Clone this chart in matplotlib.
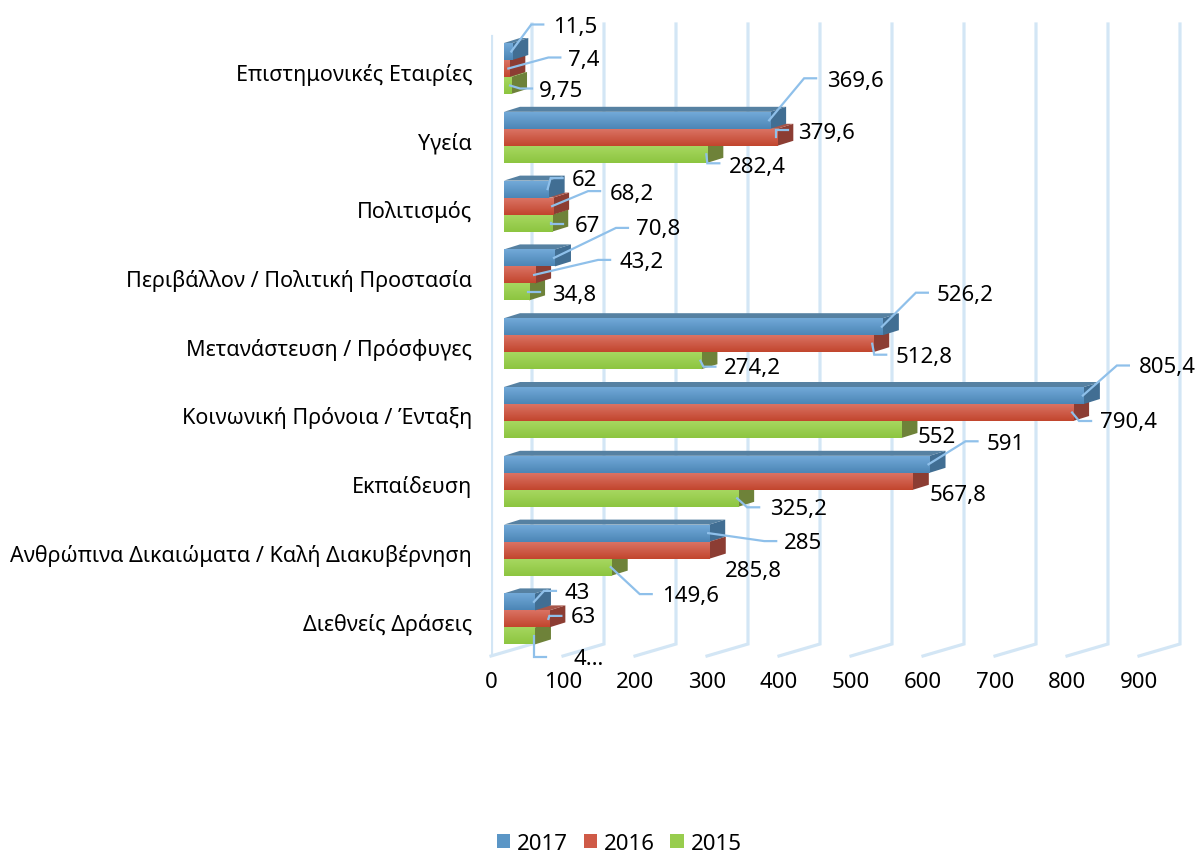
#!/usr/bin/env python3
"""Horizontal pseudo-3D clustered bars, three years per category, with leader-line labels."""

import numpy as np
import matplotlib
matplotlib.use("Agg")
import matplotlib.pyplot as plt
from matplotlib.colors import LinearSegmentedColormap
from matplotlib.patches import Patch, Polygon

plt.rcParams["font.family"] = ["Noto Sans", "DejaVu Sans"]

# ── Data ────────────────────────────────────────────────────────
CATEGORIES = [
    "Επιστημονικές Εταιρίες",
    "Υγεία",
    "Πολιτισμός",
    "Περιβάλλον / Πολιτική Προστασία",
    "Μετανάστευση / Πρόσφυγες",
    "Κοινωνική Πρόνοια / Ένταξη",
    "Εκπαίδευση",
    "Ανθρώπινα Δικαιώματα / Καλή Διακυβέρνηση",
    "Διεθνείς Δράσεις",
]
YEARS = ["2017", "2016", "2015"]
VALUES_2017 = [11.5, 369.6, 62, 70.8, 526.2, 805.4, 591, 285, 43]
VALUES_2016 = [7.4, 379.6, 68.2, 43.2, 512.8, 790.4, 567.8, 285.8, 63]
VALUES_2015 = [9.75, 282.4, 67, 34.8, 274.2, 552, 325.2, 149.6, 43]
LABELS_2017 = ["11,5", "369,6", "62", "70,8", "526,2", "805,4", "591", "285", "43"]
LABELS_2016 = ["7,4", "379,6", "68,2", "43,2", "512,8", "790,4", "567,8", "285,8", "63"]
LABELS_2015 = ["9,75", "282,4", "67", "34,8", "274,2", "552", "325,2", "149,6", "4…"]
X_TICKS = [0, 100, 200, 300, 400, 500, 600, 700, 800, 900]

# ── Label placement: pixel offsets from the end of each bar ─────
# (elbow dx, elbow dy, text dx, text dy); elbow None = no leader line
PLACE_2017 = [(20, -27, 63, -26), (35, -42, 85, -41), (3, -11, 36, -11),
              (62, -30, 103, -30), (34, -34, 82, -33), (34, -30, 83, -29.5),
              (37, -23, 76, -22), (56, 8, 94, 8), (10, -11, 42, -10)]
PLACE_2016 = [(40, -11, 74, -10), (0, -7, 49, -6), (36, -15, 79, -14),
              (64, -15, 106, -14), (2, 11, 51, 12), (7, 8.5, 55, 8.5),
              (None, None, 45, 12), (None, None, 44, 19), (1, -3, 34, -3)]
PLACE_2015 = [(10, 3, 50, 4), (1, 9, 50, 11), (0, 1, 35, 1),
              (0, 0, 45, 2), (3, 6, 51, 6), (None, None, 35, 6.5),
              (10, 9, 60, 9), (29, 27, 79, 27), (0, 21, 54, 22)]

# ── Styling ─────────────────────────────────────────────────────
FRONT_TOP = ["#72a9d8", "#da7263", "#a6d760"]
FRONT_BOT = ["#4c86b6", "#c2462e", "#8dc540"]
SIDE = ["#416e93", "#8c3d33", "#6e8239"]
TOP = ["#5681a2", "#a8564a", "#84a044"]
LEGEND_COLORS = ["#5b96c6", "#cf5a47", "#98cd4e"]
GRID_COLOR = "#d3e6f5"
LEADER_COLOR = "#8fc0ea"
VALUE_FONTSIZE = 16.0
CAT_FONTSIZE = 15.5
TICK_FONTSIZE = 16.0
VALUE_SHIFT_PX = -1.5

# px ↔ data scales
PX_PER_100 = 72.0
ROW_PX = 68.8
BAR_PX = 17.0
VX = 100.0 / PX_PER_100      # value units per pixel
VY = 1.0 / ROW_PX            # row units per pixel
BAR_BASE = 13.0 * VX
DEPTH_X, DEPTH_Y = 16 * VX, -5 * VY
WALL_X, WALL_Y = 41 * VX, -12 * VY

W, H = 1197, 853
AX_L, AX_R, AX_T, AX_B = 491, 1179, 25, 657
ROW0_PX = 69.5


def draw_bar(ax, row, value, idx, z):
    """One bar: side and top faces as polygons, front as a barh with a gradient."""
    h = BAR_PX * VY
    yc = row + (idx - 1) * h
    y0, y1 = yc - h / 2, yc + h / 2
    x0, x1 = BAR_BASE, BAR_BASE + value
    ax.add_patch(Polygon([(x1, y0), (x1 + DEPTH_X, y0 + DEPTH_Y),
                          (x1 + DEPTH_X, y1 + DEPTH_Y), (x1, y1)],
                         fc=SIDE[idx], ec="none", zorder=z))
    ax.add_patch(Polygon([(x0, y0), (x0 + DEPTH_X, y0 + DEPTH_Y),
                          (x1 + DEPTH_X, y0 + DEPTH_Y), (x1, y0)],
                         fc=TOP[idx], ec="none", zorder=z))
    bar = ax.barh(yc, value, left=BAR_BASE, height=h, color=FRONT_BOT[idx], zorder=z)[0]
    cmap = LinearSegmentedColormap.from_list("f", [FRONT_TOP[idx], FRONT_BOT[idx]])
    im = ax.imshow(np.linspace(0, 1, 32).reshape(-1, 1), cmap=cmap, aspect="auto",
                   extent=[x0, x1, y1, y0], zorder=z + 0.1)
    im.set_clip_path(bar)
    return x1, yc


def draw_label(ax, end_x, yc, text, place):
    ex, ey, tx, ty = place
    if ex is not None:
        px = [0, ex, ex + 12]
        py = [0, ey, ey]
        ax.plot([end_x + p * VX - 1 * VX for p in px], [yc + p * VY for p in py],
                color=LEADER_COLOR, lw=1.6, zorder=20, clip_on=False,
                solid_joinstyle="miter")
    ax.text(end_x + tx * VX, yc + (ty + VALUE_SHIFT_PX) * VY, text, ha="center",
            va="center_baseline", fontsize=VALUE_FONTSIZE, color="black", zorder=21,
            clip_on=False)


def main():
    fig = plt.figure(figsize=(W / 100, H / 100), dpi=100)
    ax = fig.add_axes([AX_L / W, 1 - AX_B / H, (AX_R - AX_L) / W, (AX_B - AX_T) / H])
    ax.set_autoscale_on(False)
    x_max = (AX_R - AX_L) * VX
    y_top, y_bot = (AX_T - ROW0_PX) * VY, (AX_B - ROW0_PX) * VY
    ax.set_xlim(0, x_max)
    ax.set_ylim(y_bot, y_top)

    # walls: left edge, floor slants and back verticals
    ax.plot([0, 0], [y_bot, y_top + 12 * VY], color=GRID_COLOR, lw=2.3, zorder=1)
    for t in X_TICKS:
        ax.plot([t, t + WALL_X, t + WALL_X], [y_bot, y_bot + WALL_Y, y_top],
                color=GRID_COLOR, lw=2.3, zorder=1, clip_on=False, solid_joinstyle="miter")

    rows = np.arange(len(CATEGORIES))
    series = [(VALUES_2017, LABELS_2017, PLACE_2017, 0, 7),
              (VALUES_2016, LABELS_2016, PLACE_2016, 1, 5),
              (VALUES_2015, LABELS_2015, PLACE_2015, 2, 3)]
    for vals, labels, places, idx, z in series:
        for r, v, lab, pl in zip(rows, vals, labels, places):
            end_x, yc = draw_bar(ax, r, v, idx, z)
            draw_label(ax, end_x, yc, lab, pl)

    ax.set_xlim(0, x_max)
    ax.set_ylim(y_bot, y_top)

    ax.set_yticks(rows + 2.5 * VY)
    ax.set_yticklabels(CATEGORIES, fontsize=CAT_FONTSIZE)
    ax.set_xticks(X_TICKS)
    ax.set_xticklabels([str(t) for t in X_TICKS], fontsize=TICK_FONTSIZE)
    ax.tick_params(axis="y", length=0, pad=13.5)
    ax.tick_params(axis="x", length=0, pad=10.5)
    for s in ax.spines.values():
        s.set_visible(False)
    ax.patch.set_visible(False)

    handles = [Patch(fc=c, ec="none", label=y) for c, y in zip(LEGEND_COLORS, YEARS)]
    fig.legend(handles=handles, loc="center", bbox_to_anchor=(619 / W, 1 - 844.5 / H),
               ncol=3, frameon=False, fontsize=TICK_FONTSIZE, handlelength=0.6,
               handleheight=0.6, handletextpad=0.3, columnspacing=0.72,
               borderpad=0, borderaxespad=0)

    fig.savefig("out.png", dpi=100)


if __name__ == "__main__":
    main()
